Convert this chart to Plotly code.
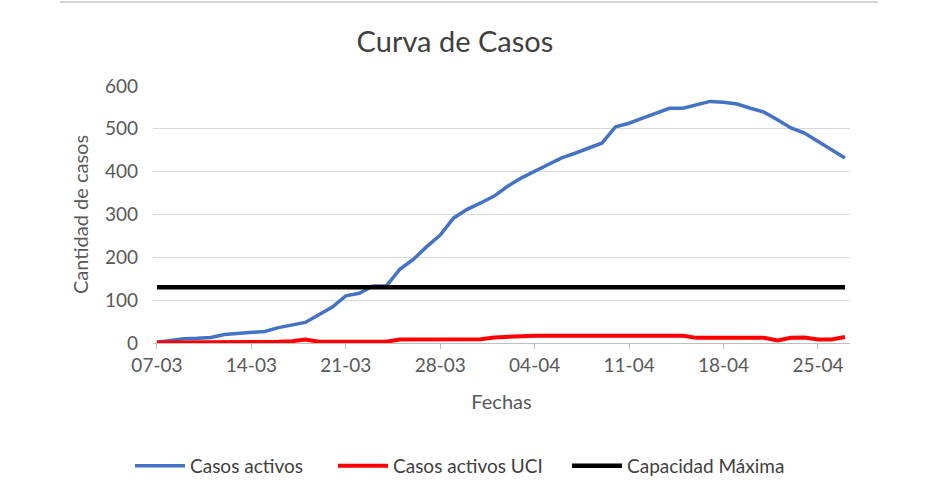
import pandas as pd
import plotly.graph_objects as go

dates = pd.date_range("2020-03-07", periods=52, freq="D")

casos_activos = [2, 6, 10, 11, 13, 20, 22, 26, 27, 36, 42, 48, 66, 84, 110, 116,
                 133, 133, 172, 195, 225, 252, 292, 312, 327, 343, 366, 385, 401,
                 416, 432, 443, 455, 467, 505, 513, 525, 536, 548, 548, 556, 564,
                 562, 558, 548, 539, 521, 502, 490, 471, 451, 432]

casos_uci = [1, 1, 1, 1, 1, 1, 1, 2, 2, 3, 4, 8, 3, 3, 3, 3, 3, 3, 8, 8, 8, 8,
             9, 9, 9, 13, 15, 15, 17, 17, 17, 17, 17, 17, 17, 17, 17, 17, 17, 17,
             12, 12, 12, 12, 12, 12, 6, 12, 13, 8, 8, 14]

capacidad_maxima = [130] * 52

tick_labels = ["07-03", "14-03", "21-03", "28-03", "04-04", "11-04", "18-04", "25-04"]

FONT = "Lato"
GREY = "#595959"
DARK = "#404040"

fig = go.Figure()
fig.add_trace(go.Scatter(x=dates, y=casos_activos, mode="lines", name="Casos activos",
                         line=dict(color="#4472C4", width=3.5), legend="legend"))
fig.add_trace(go.Scatter(x=dates, y=casos_uci, mode="lines", name="Casos activos UCI",
                         line=dict(color="#FF0000", width=4), legend="legend2"))
fig.add_trace(go.Scatter(x=dates, y=capacidad_maxima, mode="lines", name="Capacidad Máxima",
                         line=dict(color="#000000", width=4.5), legend="legend3"))

tickvals = [dates[0] + pd.Timedelta(days=7 * i) for i in range(len(tick_labels))]
xr0 = dates[0] - pd.Timedelta(hours=7)
xr1 = dates[-1] + pd.Timedelta(hours=9)


def leg(xpix):
    return dict(orientation="h", xref="container", yref="container",
                x=xpix / 940, xanchor="left", y=1 - 466 / 492, yanchor="middle",
                font=dict(family=FONT, size=19, color=DARK),
                itemwidth=50, bgcolor="rgba(0,0,0,0)")


fig.update_layout(
    width=940, height=492,
    margin=dict(l=153, r=90, t=86, b=149),
    paper_bgcolor="white", plot_bgcolor="white",
    font=dict(family=FONT, color=GREY),
    title=dict(text="Curva de Casos", x=0.484, xref="container", xanchor="center",
               y=1 - 42 / 492, yref="container", yanchor="middle",
               font=dict(family=FONT, size=29, color=DARK)),
    showlegend=True,
    legend=leg(130),
    legend2=leg(333),
    legend3=leg(567),
    xaxis=dict(type="date", range=[xr0, xr1], tickvals=tickvals, ticktext=tick_labels,
               showgrid=False, showline=True, linecolor="#bfbfbf", linewidth=1,
               ticks="outside", ticklen=5, tickcolor="#bfbfbf",
               tickfont=dict(family=FONT, size=19, color=GREY),
               title=dict(text="Fechas", font=dict(family=FONT, size=20, color=GREY), standoff=20),
               zeroline=False),
    yaxis=dict(range=[0, 600], dtick=100, showgrid=True, gridcolor="#d9d9d9", gridwidth=1,
               showline=False, zeroline=False, ticks="",
               tickfont=dict(family=FONT, size=19, color=GREY), ticklabelstandoff=14,
               title=dict(text="Cantidad de casos", font=dict(family=FONT, size=20, color=GREY),
                          standoff=10)),
)

fig.add_shape(type="line", xref="paper", yref="paper",
              x0=(60 - 153) / 697, x1=(878 - 153) / 697,
              y0=(343 - 2) / 257, y1=(343 - 2) / 257,
              line=dict(color="#d4d4d4", width=2))

fig.write_html("out.html")
